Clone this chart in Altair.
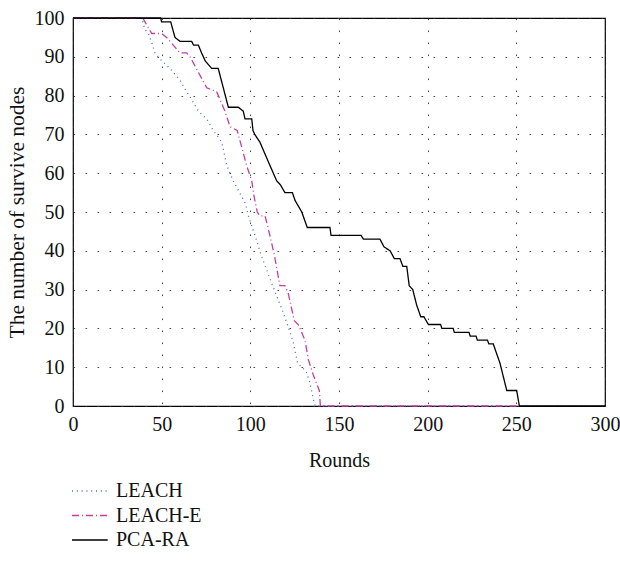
import altair as alt
import pandas as pd

series_names = ["LEACH", "LEACH-E", "PCA-RA"]
series_colors = ["#4a68cc", "#c23fa4", "#000000"]

leach_x = [0, 38.7, 40.6, 42.5, 44.9, 46.2, 50, 54.7, 60.3, 64.1, 66.9, 70.7, 75.4, 79.1,
           83.9, 86.7, 90.4, 95.1, 97.4, 98.9, 102.6, 106, 112.6, 118.6, 123.9, 126.7,
           131.4, 133.6, 135.9, 136.6, 250]
leach_y = [100, 100, 97, 96, 93, 91, 89, 87, 84, 81, 79, 76, 74, 71,
           68, 62, 58, 54, 52, 49, 44, 39, 31, 24, 17, 11,
           9, 6, 1, 0, 0]

leache_x = [0, 39.3, 40.6, 44.4, 50, 52.8, 60.3, 64.1, 66, 70.7, 75.4, 81, 85.7, 88.5,
            92.6, 97.9, 100.8, 102.1, 103.9, 105.4, 108.3, 111, 113.5, 116.7, 119.5,
            121.4, 124.8, 127, 130.8, 132.7, 135.5, 138.9, 139.5, 250]
leache_y = [100, 100, 99, 96, 96, 95, 91, 91, 90, 86, 82, 81, 76, 72,
            71, 62, 58, 54, 50, 49, 49, 44, 39, 31, 31,
            29, 22, 21, 17, 12, 8, 4, 0, 0]

pca_x = [0, 49.4, 50, 55.1, 57.5, 60.3, 66.9, 68, 70.7, 72.5, 74.5, 76.3, 78.2, 81.9,
         87.6, 93.2, 96, 97, 100.8, 101.5, 102.5, 105.4, 112, 114.9, 117, 119.5, 123.7,
         125.2, 129, 132.1, 144.9, 145.5, 162.4, 163.8, 173.1, 175.4, 178.8, 181.2,
         184.4, 186, 188.2, 189.6, 191.6, 193.8, 196.1, 197.9, 200.4, 207.3, 208,
         214.4, 215, 223.3, 224, 227.3, 228, 233.7, 234.5, 237, 238.5, 240.8, 244.6,
         250.2, 251.7, 300]
pca_y = [100, 100, 99, 99, 95, 94, 94, 93, 93, 91, 89, 88, 87, 87,
         77, 77, 76, 74, 74, 71, 70, 68, 61, 58, 57, 55, 55,
         53, 50, 46, 46, 44, 44, 43, 43, 41, 40, 38,
         38, 36, 36, 31, 30, 26, 23, 23, 21, 21, 20,
         20, 19, 19, 18, 18, 17, 17, 16, 16, 14, 11, 4,
         4, 0, 0]

x_ticks = [0, 50, 100, 150, 200, 250, 300]
y_ticks = [0, 10, 20, 30, 40, 50, 60, 70, 80, 90, 100]

rows = []
for name, xs, ys in zip(series_names, [leach_x, leache_x, pca_x], [leach_y, leache_y, pca_y]):
    for i, (x, y) in enumerate(zip(xs, ys)):
        rows.append({"series": name, "round": x, "nodes": y, "idx": i})
df = pd.DataFrame(rows)

FONT = "Liberation Serif"

chart = alt.Chart(df).mark_line(strokeWidth=1.3).encode(
    x=alt.X("round:Q", scale=alt.Scale(domain=[0, 300], nice=False, zero=False),
            axis=alt.Axis(title="Rounds", values=x_ticks, labelPadding=8, titlePadding=16,
                          grid=True, ticks=False, domain=False, labelFlush=False,
                          labelOverlap=False)),
    y=alt.Y("nodes:Q", scale=alt.Scale(domain=[0, 100], nice=False),
            axis=alt.Axis(title="The number of survive nodes", values=y_ticks, labelPadding=9,
                          titlePadding=6, grid=True, ticks=False, domain=False,
                          titleFontSize=21.5, labelFlush=False, labelOverlap=False)),
    color=alt.Color("series:N", scale=alt.Scale(domain=series_names, range=series_colors),
                    legend=alt.Legend(title=None, orient="none", legendX=-4, legendY=463,
                                      symbolType="M-1,0H4.1", symbolSize=196, symbolStrokeWidth=1.3,
                                      labelFont=FONT, labelFontSize=20, labelOffset=27,
                                      rowPadding=4.5, padding=0, labelColor="#111")),
    strokeDash=alt.StrokeDash("series:N", scale=alt.Scale(domain=series_names,
                              range=[[1, 3.8], [7, 3, 1, 3], [1, 0]]), legend=None),
    order="idx:Q",
).properties(
    width=532, height=388,
    autosize=alt.AutoSizeParams(type="none"),
    padding={"left": 73, "top": 18, "right": 15, "bottom": 159},
).configure_view(
    stroke="#000", strokeWidth=1.2
).configure_axis(
    labelFont=FONT, titleFont=FONT, labelFontSize=20, titleFontSize=20,
    labelColor="#111", titleColor="#111", titleFontWeight="normal",
    gridColor="#333", gridDash=[1.6, 10.4], gridWidth=1, gridOpacity=0.9
)

chart.save("out.html", embed_options={"renderer": "svg", "actions": False})
